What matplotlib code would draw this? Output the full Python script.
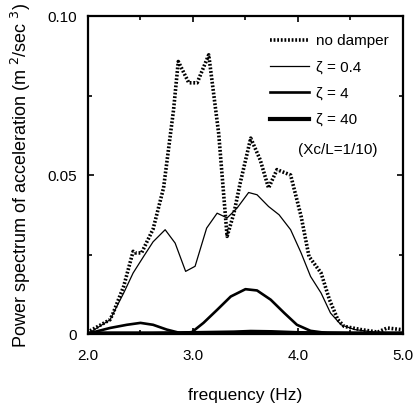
import numpy as np
import matplotlib.pyplot as plt
from matplotlib.ticker import MultipleLocator

plt.rcParams['font.family'] = ['Liberation Sans', 'DejaVu Sans']

# Valors llegits de la figura
f_nd = [2.02, 2.21, 2.24, 2.34, 2.43, 2.45, 2.51, 2.62, 2.72, 2.815, 2.86, 2.96, 3.04, 3.15,
        3.245, 3.325, 3.39, 3.45, 3.55, 3.64, 3.72, 3.80, 3.93, 4.03, 4.105, 4.22, 4.30,
        4.38, 4.44, 4.60, 4.76, 4.85, 4.98]
p_nd = [0.001, 0.0045, 0.0066, 0.015, 0.026, 0.0255, 0.0255, 0.033, 0.046, 0.0705, 0.0857, 0.079,
        0.079, 0.0878, 0.063, 0.0307, 0.038, 0.0475, 0.0616, 0.0548, 0.0459, 0.0517, 0.050,
        0.037, 0.0244, 0.0192, 0.0108, 0.0045, 0.0024, 0.0014, 0.0006, 0.0019, 0.0014]

f_04 = [2.02, 2.21, 2.34, 2.43, 2.53, 2.62, 2.735, 2.83, 2.93, 3.02, 3.13, 3.23, 3.325, 3.42,
        3.53, 3.61, 3.72, 3.82, 3.93, 4.03, 4.12, 4.22, 4.31, 4.41, 4.54, 4.73, 4.98]
p_04 = [0.0005, 0.0045, 0.0129, 0.0192, 0.0244, 0.029, 0.0328, 0.0286, 0.0197, 0.0213, 0.0333,
        0.038, 0.0365, 0.0396, 0.0445, 0.0438, 0.0401, 0.0375, 0.0328, 0.0255, 0.0181, 0.0129,
        0.0066, 0.0029, 0.0014, 0.0006, 0.0003]

f_4 = [2.02, 2.21, 2.37, 2.50, 2.62, 2.75, 2.88, 2.99, 3.10, 3.23, 3.36, 3.50, 3.61, 3.74,
       3.87, 3.99, 4.12, 4.28, 4.98]
p_4 = [0.0003, 0.0019, 0.0029, 0.0035, 0.0029, 0.0014, 0.0003, 0.0006, 0.0035, 0.0076, 0.0118,
       0.0141, 0.0137, 0.0108, 0.0066, 0.0029, 0.001, 0.0003, 0.0001]

f_40 = [2.02, 2.60, 3.00, 3.39, 3.55, 3.75, 4.00, 4.50, 4.98]
p_40 = [0.0002, 0.0002, 0.0003, 0.0005, 0.0007, 0.0006, 0.0003, 0.0002, 0.0002]

fig = plt.figure(figsize=(4.18, 4.11), dpi=100, facecolor='white')
ax = fig.add_axes([0.2105, 0.1873, 0.7535, 0.7737])

ax.plot(f_nd, p_nd, color='black', lw=2.6, linestyle=(0, (0.5, 0.5)), label='no damper')
ax.plot(f_04, p_04, color='black', lw=0.9, label='ζ = 0.4')
ax.plot(f_4, p_4, color='black', lw=1.9, label='ζ = 4')
ax.plot(f_40, p_40, color='black', lw=3.0, label='ζ = 40')

ax.set_xlim(2.0, 5.0)
ax.set_ylim(0, 0.10)
ax.set_xticks([2, 3, 4, 5])
ax.set_xticklabels(['2.0', '3.0', '4.0', '5.0'])
ax.set_yticks([0, 0.05, 0.10])
ax.set_yticklabels(['0', '0.05', '0.10'])
ax.xaxis.set_minor_locator(MultipleLocator(0.5))
ax.yaxis.set_minor_locator(MultipleLocator(0.025))
ax.tick_params(which='both', direction='in', top=True, right=True, labelsize=11)
ax.tick_params(which='major', length=4, width=1.2, pad=11)
ax.tick_params(which='minor', length=3, width=1.2)
ax.tick_params(axis='y', pad=8)
for s in ax.spines.values():
    s.set_linewidth(1.6)

ax.set_xlabel('frequency (Hz)', fontsize=12.5, labelpad=18)
ax.set_ylabel('Power spectrum of acceleration (m $^2$/sec $^3$)', fontsize=13, labelpad=10)

ax.legend(loc='upper right', bbox_to_anchor=(0.975, 0.962), frameon=False, fontsize=11,
          handlelength=2.6, handletextpad=0.45, labelspacing=0.8, borderaxespad=0)
ax.text(0.667, 0.579, '(Xc/L=1/10)', transform=ax.transAxes, fontsize=11, va='center')

plt.savefig('out.png', dpi=100)
